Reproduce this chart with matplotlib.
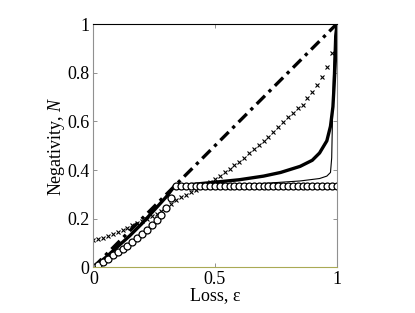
import numpy as np
import matplotlib
matplotlib.use('Agg')
import matplotlib.pyplot as plt

plt.rcParams['font.family'] = ['Liberation Serif', 'DejaVu Serif']
plt.rcParams['mathtext.fontset'] = 'custom'
plt.rcParams['mathtext.rm'] = 'Liberation Serif'
plt.rcParams['mathtext.it'] = 'Liberation Serif:italic'

# dash-dot reference line
diag_x = [0.0, 1.0]
diag_y = [0.0, 1.0]

# cross markers, every 0.02 in loss
cross_x = np.round(np.arange(0, 1.0001, 0.02), 2)
cross_y = [0.112, 0.116, 0.121, 0.128, 0.136, 0.145, 0.154, 0.163, 0.172, 0.181,
           0.190, 0.199, 0.209, 0.220, 0.232, 0.245, 0.262, 0.277, 0.289, 0.299,
           0.309, 0.319, 0.330, 0.341, 0.352, 0.364, 0.377, 0.390, 0.404, 0.419,
           0.435, 0.451, 0.468, 0.485, 0.502, 0.519, 0.537, 0.556, 0.576, 0.596,
           0.616, 0.636, 0.654, 0.667, 0.695, 0.722, 0.749, 0.783, 0.824, 0.880,
           1.000]

# circle markers, every 0.02 in loss
circ_x = np.round(np.arange(0, 1.0001, 0.02), 2)
circ_y = [0.000, 0.010, 0.023, 0.036, 0.050, 0.063, 0.076, 0.089, 0.104, 0.120,
          0.137, 0.155, 0.174, 0.194, 0.216, 0.242, 0.285] + [0.333] * 34

# thick solid curve
thick_x = [0.0, 0.05, 0.1, 0.15, 0.2, 0.25, 0.3, 0.333, 0.36, 0.4, 0.5, 0.6, 0.7,
           0.77, 0.85, 0.9, 0.93, 0.96, 0.975, 0.985, 0.99, 0.995, 1.0]
thick_y = [0.0, 0.04, 0.085, 0.13, 0.18, 0.235, 0.29, 0.333, 0.336, 0.34, 0.35, 0.36,
           0.375, 0.39, 0.415, 0.44, 0.47, 0.52, 0.58, 0.66, 0.75, 0.85, 1.0]

# thin solid curve
thin_x = [0.0, 0.05, 0.1, 0.15, 0.2, 0.25, 0.3, 0.333, 0.36, 0.5, 0.7, 0.85, 0.93,
          0.96, 0.975, 0.98, 0.983, 0.987, 0.992, 1.0]
thin_y = [0.0, 0.04, 0.085, 0.13, 0.18, 0.235, 0.29, 0.333, 0.334, 0.338, 0.345,
          0.355, 0.365, 0.375, 0.39, 0.45, 0.6, 0.8, 0.95, 1.0]

fig = plt.figure(figsize=(4.15, 3.13), dpi=100)
ax = fig.add_axes([0.225, 0.146, 0.586, 0.777])

ax.plot(thin_x, thin_y, color='k', lw=0.8)
ax.plot(thick_x, thick_y, color='k', lw=2.4)
ax.plot(diag_x, diag_y, color='k', lw=2.4, linestyle=(0, (3.5, 1.6, 1.0, 1.6)))
ax.plot(cross_x, cross_y, 'x', color='k', ms=3.5, mew=0.8)
ax.plot(circ_x, circ_y, 'o', mfc='white', mec='k', ms=5, mew=0.9)

ax.set_xlim(0, 1)
ax.set_ylim(0, 1)
ax.set_xticks([0, 0.5, 1])
ax.set_xticklabels(['0', '0.5', '1'])
ax.set_yticks([0, 0.2, 0.4, 0.6, 0.8, 1])
ax.set_yticklabels(['0', '0.2', '0.4', '0.6', '0.8', '1'])
ax.tick_params(direction='in', top=True, right=True, length=3, width=0.6,
               labelsize=13, pad=3, colors='#808080', labelcolor='k')
ax.tick_params(axis='x', pad=3)

ax.spines['top'].set_color('k')
ax.spines['left'].set_color('#909090')
ax.spines['right'].set_color('#909090')
ax.spines['bottom'].set_color('#aaaa55')
for s in ax.spines.values():
    s.set_linewidth(0.8)

ax.set_xlabel('Loss, ε', fontsize=13, labelpad=-1)
ax.set_ylabel('Negativity, $N$', fontsize=13, labelpad=0)

fig.savefig('out.png', dpi=100)
